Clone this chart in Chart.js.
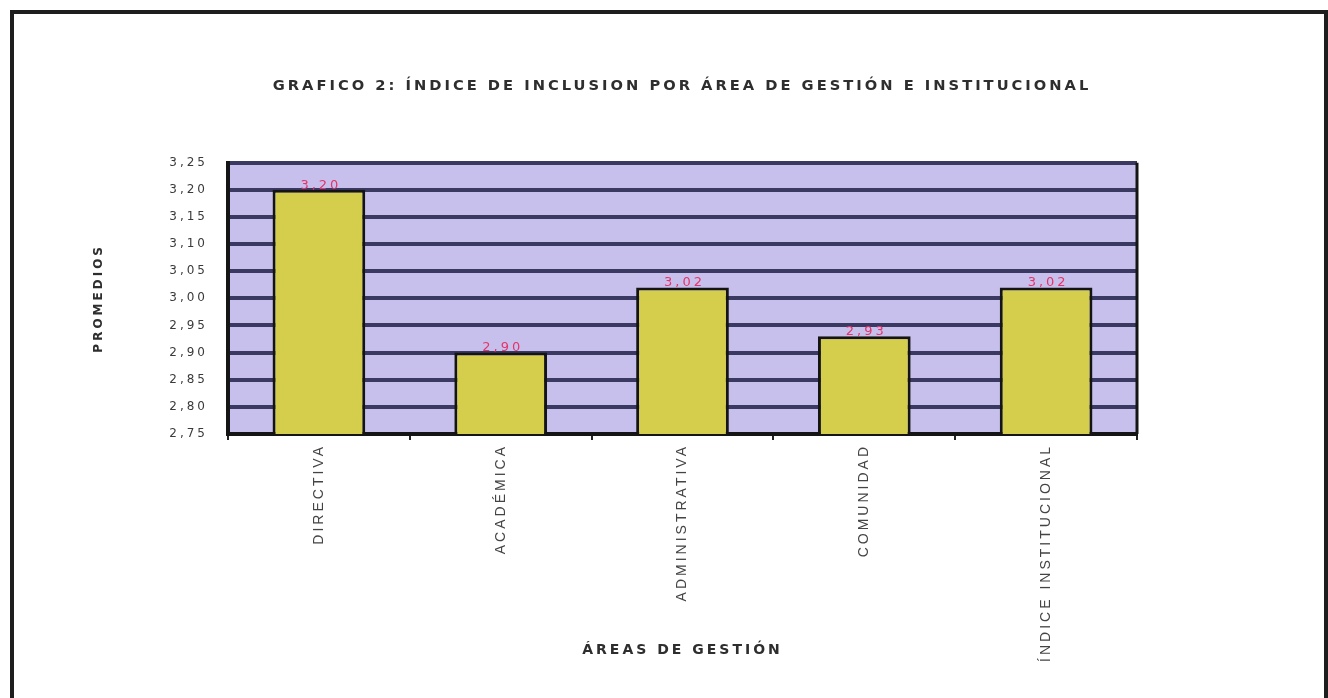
<!DOCTYPE html>
<html>
<head>
<meta charset="utf-8">
<script src="https://cdn.jsdelivr.net/npm/chart.js@4/dist/chart.umd.min.js"></script>
<style>
  html, body { margin: 0; padding: 0; background: #fff; }
  #frame {
    position: absolute; left: 10px; top: 10px; width: 1318px; height: 700px;
    box-sizing: border-box; border: 4px solid #1e1e1e; border-bottom: none;
  }
  #wrap { position: absolute; left: 0; top: 0; width: 1328px; height: 698px; }
</style>
</head>
<body>
<div id="frame"></div>
<div id="wrap"><canvas id="chart" width="1328" height="698"></canvas></div>
<script>
const categories = ['DIRECTIVA', 'ACADÉMICA', 'ADMINISTRATIVA', 'COMUNIDAD', 'ÍNDICE INSTITUCIONAL'];
const promedios = [3.20, 2.90, 3.02, 2.93, 3.02];
const yMin = 2.75;
const yMax = 3.25;
const yStep = 0.05;

const fmt = v => v.toFixed(2).replace('.', ',');
const SANS = '"Liberation Sans", Arial, sans-serif';
const WIDE = '"DejaVu Sans", Verdana, sans-serif';

// the original text is stretched wide
const spacing = {
    id: 'spacing',
    beforeUpdate(chart) { chart.ctx.letterSpacing = '3px'; },
    beforeDraw(chart) { chart.ctx.letterSpacing = '3px'; },
};

const plotBg = {
    id: 'plotBg',
    beforeDraw(chart) {
        const { ctx, chartArea: a } = chart;
        ctx.save();
        ctx.fillStyle = '#c8c0ec';
        ctx.fillRect(a.left, a.top, a.right - a.left, a.bottom - a.top);
        ctx.restore();
    },
    beforeDatasetsDraw(chart) {
        const { ctx, chartArea: a } = chart;
        ctx.save();
        ctx.strokeStyle = '#151515';
        ctx.lineWidth = 3;
        ctx.beginPath();
        ctx.moveTo(a.right, a.top);
        ctx.lineTo(a.right, a.bottom);
        ctx.stroke();
        ctx.restore();
    },
};

const valueLabels = {
    id: 'valueLabels',
    afterDatasetsDraw(chart) {
        const { ctx } = chart;
        const meta = chart.getDatasetMeta(0);
        ctx.save();
        ctx.letterSpacing = '3px';
        ctx.font = '13px ' + WIDE;
        ctx.fillStyle = '#e5336b';
        ctx.textAlign = 'center';
        ctx.textBaseline = 'bottom';
        meta.data.forEach((bar, i) => {
            ctx.fillText(fmt(promedios[i]), bar.x + 2, bar.y + 2);
        });
        ctx.restore();
    },
};

new Chart(document.getElementById('chart'), {
    type: 'bar',
    data: {
        labels: categories,
        datasets: [{
            data: promedios,
            backgroundColor: '#d5cd4c',
            borderColor: '#141414',
            borderWidth: 3,
            borderSkipped: false,
            categoryPercentage: 1,
            barPercentage: 0.51,
        }],
    },
    options: {
        responsive: false,
        animation: false,
        layout: { padding: { left: 80, right: 44, top: 0, bottom: 30 } },
        plugins: {
            legend: { display: false },
            tooltip: { enabled: false },
            title: {
                display: true,
                text: 'GRAFICO 2: ÍNDICE DE INCLUSION POR ÁREA DE GESTIÓN E INSTITUCIONAL',
                color: '#2e2e2e',
                font: { family: WIDE, size: 14.7, weight: 'bold' },
                padding: { top: 77, bottom: 68 },
            },
        },
        scales: {
            x: {
                afterFit(scale) { scale.height = 234; },
                grid: { display: true, drawOnChartArea: false, tickLength: 6, color: '#222', lineWidth: 2 },
                border: { display: true, color: '#151515', width: 4 },
                ticks: {
                    minRotation: 90, maxRotation: 90, padding: 4,
                    color: '#444', font: { family: SANS, size: 14 },
                },
                title: {
                    display: true, text: 'ÁREAS DE GESTIÓN', color: '#2e2e2e',
                    font: { family: WIDE, size: 14, weight: 'bold' },
                    padding: { top: 0, bottom: 9 },
                },
            },
            y: {
                min: yMin, max: yMax,
                afterFit(scale) { scale.width = 148; },
                grid: { color: '#3a3962', lineWidth: 4, drawTicks: false },
                border: { display: true, color: '#151515', width: 4 },
                ticks: {
                    stepSize: yStep, padding: 20, color: '#3a3a3a',
                    font: { family: WIDE, size: 12 },
                    callback: v => fmt(v),
                },
                title: {
                    display: true, text: 'PROMEDIOS', color: '#2e2e2e',
                    font: { family: WIDE, size: 12, weight: 'bold' },
                    padding: { top: 12, bottom: 0 },
                },
            },
            // empty right-hand space so the title centres over the plot
            yRight: {
                type: 'linear', position: 'right',
                afterFit(scale) { scale.width = 147; },
                grid: { display: false, drawTicks: false },
                border: { display: false },
                ticks: { display: false },
            },
        },
    },
    plugins: [spacing, plotBg, valueLabels],
});
</script>
</body>
</html>
